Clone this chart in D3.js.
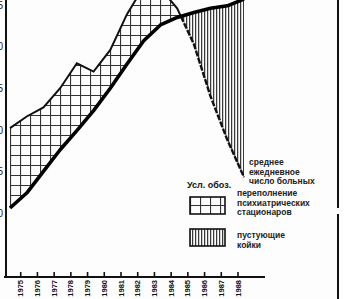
<!DOCTYPE html>
<html>
<head>
<meta charset="utf-8">
<script src="https://cdn.jsdelivr.net/npm/d3@7"></script>
<style>
  body { margin: 0; background: #fdfdfd; }
  svg { display: block; font-family: "Liberation Sans", Arial, sans-serif; }
</style>
</head>
<body>
<script>
// years along the bottom
var years = [1974, 1975, 1976, 1977, 1978, 1979, 1980, 1981, 1982, 1983, 1984, 1985, 1986, 1987, 1988];
var beds = [10.6, 12.4, 15.0, 17.6, 19.9, 22.3, 25.0, 27.9, 30.7, 32.6, 33.5, 34.1, 34.6, 34.9, 35.7];
var patients = [20.2, 21.6, 22.7, 25.0, 28.0, 27.0, 29.6, 33.9, 37.2, 37.0, 34.6, 30.3, 24.0, 18.8, 14.3];
var tickYears = [1975, 1976, 1977, 1978, 1979, 1980, 1981, 1982, 1983, 1984, 1985, 1986, 1987, 1988];
var yTicks = [10, 15, 20, 25, 30, 35];
var legendItems = [
  { pattern: "grid", lines: ["переполнение", "психиатрических", "стационаров"] },
  { pattern: "vert", lines: ["пустующие", "койки"] }
];
var lineLabel = ["среднее", "ежедневное", "число больных"];

var svgWidth = 344;
var svgHeight = 299;

var svg = d3.select("body")
  .append("svg")
  .attr("width", svgWidth)
  .attr("height", svgHeight);

var x = d3.scaleLinear().domain([1974, 1988]).range([10, 244]);
var y = d3.scaleLinear().domain([10, 35]).range([213, 5]);

var defs = svg.append("defs");

var grid = defs.append("pattern")
  .attr("id", "grid")
  .attr("patternUnits", "userSpaceOnUse")
  .attr("width", 10).attr("height", 10)
  .attr("y", 5);
grid.append("path")
  .attr("d", "M0.5,0V10M0,0.5H10")
  .attr("stroke", "#333")
  .attr("stroke-width", 1.2)
  .attr("fill", "none");

var vert = defs.append("pattern")
  .attr("id", "vert")
  .attr("patternUnits", "userSpaceOnUse")
  .attr("width", 3).attr("height", 10);
vert.append("path")
  .attr("d", "M0.6,0V10")
  .attr("stroke", "#3a3a3a")
  .attr("stroke-width", 1.3);

// data rows and the point where the two lines cross
var rows = years.map(function(yr, i) {
  return { year: yr, beds: beds[i], patients: patients[i] };
});
var cross;
for (var i = 0; i < rows.length - 1; i++) {
  var d0 = rows[i].patients - rows[i].beds;
  var d1 = rows[i + 1].patients - rows[i + 1].beds;
  if (d0 >= 0 && d1 < 0) {
    var t = d0 / (d0 - d1);
    cross = {
      year: rows[i].year + t,
      beds: rows[i].beds + t * (rows[i + 1].beds - rows[i].beds),
      patients: rows[i].patients + t * (rows[i + 1].patients - rows[i].patients),
      idx: i
    };
    break;
  }
}
var overRows = rows.slice(0, cross.idx + 1).concat([cross]);
var emptyRows = [cross].concat(rows.slice(cross.idx + 1));

var area = d3.area()
  .x(function(d) { return x(d.year); })
  .y0(function(d) { return y(d.beds); })
  .y1(function(d) { return y(d.patients); });

svg.append("path").datum(overRows)
  .attr("d", area)
  .attr("fill", "url(#grid)");
svg.append("path").datum(emptyRows)
  .attr("d", area)
  .attr("fill", "url(#vert)");

var patLine = d3.line()
  .x(function(d) { return x(d.year); })
  .y(function(d) { return y(d.patients); });
var bedLine = d3.line()
  .x(function(d) { return x(d.year); })
  .y(function(d) { return y(d.beds); });

svg.append("path").datum(overRows)
  .attr("d", patLine)
  .attr("fill", "none")
  .attr("stroke", "#111")
  .attr("stroke-width", 2);
svg.append("path").datum(emptyRows)
  .attr("d", patLine)
  .attr("fill", "none")
  .attr("stroke", "#111")
  .attr("stroke-width", 2.4)
  .attr("stroke-dasharray", "6,1.5");
svg.append("path").datum(rows)
  .attr("d", bedLine)
  .attr("fill", "none")
  .attr("stroke", "#000")
  .attr("stroke-width", 3.6)
  .attr("stroke-linejoin", "round");

// axes
var bottomAxis = d3.axisBottom(x)
  .tickValues(tickYears)
  .tickFormat(d3.format("d"))
  .tickSize(-5);
var xAxis = svg.append("g")
  .attr("transform", "translate(-6.5, 277)")
  .call(bottomAxis);
xAxis.select(".domain").remove();
xAxis.selectAll(".tick line").attr("stroke", "#111").attr("stroke-width", 1.6);
xAxis.selectAll(".tick text")
  .attr("transform", "rotate(-90)")
  .attr("text-anchor", "end")
  .attr("x", -3)
  .attr("y", 0)
  .attr("dy", "0.35em")
  .attr("font-size", 7.5)
  .attr("font-weight", "bold")
  .attr("fill", "#111");

var leftAxis = d3.axisLeft(y).tickValues(yTicks).tickSize(0).tickPadding(3);
var yAxis = svg.append("g")
  .attr("transform", "translate(6, 0)")
  .call(leftAxis);
yAxis.select(".domain").remove();
yAxis.selectAll(".tick text").attr("font-size", 10).attr("fill", "#222");

svg.append("line")
  .attr("x1", 6).attr("x2", 6).attr("y1", 0).attr("y2", 277)
  .attr("stroke", "#111").attr("stroke-width", 2);
svg.append("line")
  .attr("x1", 4).attr("x2", 265).attr("y1", 277).attr("y2", 277)
  .attr("stroke", "#111").attr("stroke-width", 1.8);

// right frame rule
svg.append("line")
  .attr("x1", 338).attr("x2", 338).attr("y1", 0).attr("y2", 208)
  .attr("stroke", "#111").attr("stroke-width", 2);
svg.append("line")
  .attr("x1", 338).attr("x2", 338).attr("y1", 214).attr("y2", 299)
  .attr("stroke", "#111").attr("stroke-width", 2);

// label for the dashed line
svg.append("text")
  .attr("x", 249).attr("y", 165)
  .attr("font-size", 8.5).attr("font-weight", "bold").attr("fill", "#222")
  .selectAll("tspan").data(lineLabel).enter().append("tspan")
  .attr("x", 249)
  .attr("dy", function(d, i) { return i ? 9.5 : 0; })
  .text(function(d) { return d; });

// legend
var legend = svg.append("g");
legend.append("text")
  .attr("x", 187).attr("y", 188)
  .attr("font-size", 9).attr("font-weight", "bold").attr("fill", "#111")
  .text("Усл. обоз.");

var boxY = [197, 229];
var textY = [196, 238];
legendItems.forEach(function(item, i) {
  legend.append("rect")
    .attr("x", 190).attr("y", boxY[i])
    .attr("width", 35).attr("height", 17)
    .attr("fill", "url(#" + item.pattern + ")")
    .attr("stroke", "#111").attr("stroke-width", 1.6);
  legend.append("text")
    .attr("x", 237).attr("y", textY[i])
    .attr("font-size", 8.5).attr("font-weight", "bold").attr("fill", "#222")
    .selectAll("tspan").data(item.lines).enter().append("tspan")
    .attr("x", 237)
    .attr("dy", function(d, j) { return j ? 9.5 : 0; })
    .text(function(d) { return d; });
});
</script>
</body>
</html>
